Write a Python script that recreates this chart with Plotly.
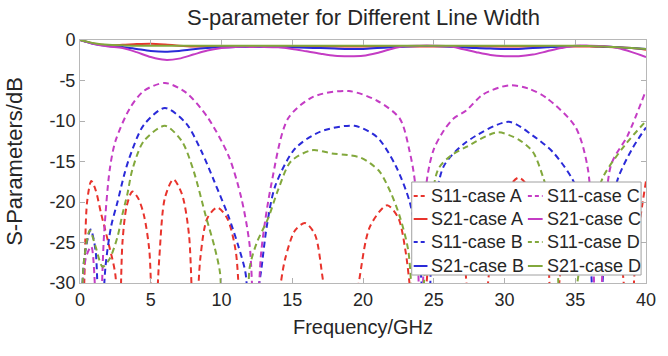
import plotly.graph_objects as go

# ---------------- data ----------------
f_s11_a = [0, 0.3, 0.5, 0.8, 1.1, 1.5, 2.0, 2.5, 2.75, 3.0, 3.3, 3.7, 4.1, 4.5, 4.9, 5.2,
           5.6, 6.0, 6.6, 7.2, 7.7, 8.1, 8.5, 9.0, 9.7, 10.4, 11.0, 11.6, 12.5, 14.0, 14.5,
           15.2, 15.9, 16.6, 17.2, 18.5, 19.7, 20.5, 21.7, 22.5, 23.0, 23.4, 24.0, 24.6,
           25.2, 26.0, 27.0, 27.8, 28.7, 29.5, 31.0, 32.3, 33.0, 33.4, 34.0, 34.8, 36.0,
           37.5, 38.3, 38.8, 39.3, 40.0]
s11_a = [-45, -30, -20, -17.4, -18.5, -21.5, -25, -29, -40, -25, -20.5, -18.7, -19.5, -21.5,
         -26, -40, -27, -19.5, -17.2, -19, -24, -40, -27, -22, -20.7, -22, -26, -40, -45,
         -32, -27, -23.5, -22.6, -24, -30, -45, -30, -23, -20.4, -22, -26, -32, -45, -28,
         -23, -20.5, -25, -40, -32, -21, -17, -20, -25, -40, -28, -22, -19.5, -23, -28,
         -40, -26, -17.4]

f_s11_b = [0, 0.3, 0.75, 1.1, 1.4, 1.8, 2.2, 2.65, 3.1, 3.5, 4.5, 6.0, 7.5, 8.6, 9.5, 10.5,
           11.2, 11.7, 12.1, 12.5, 12.8, 13.2, 13.8, 15.2, 17.0, 19.4, 21.0, 22.3, 23.3, 24.0,
           24.5, 25.0, 25.7, 27.3, 30.3, 32.0, 33.4, 34.8, 35.8, 36.5, 37.2, 38.0, 39.0, 40.0]
s11_b = [-40, -27, -23.4, -26, -40, -28, -23, -20, -16.8, -14.5, -10.5, -8.4, -10.3, -13.8,
         -17.5, -21.8, -25.5, -28.8, -40, -32, -28.5, -23, -18, -13.4, -11.3, -10.6, -12,
         -15.5, -20, -27, -40, -22, -15.6, -12.6, -10.1, -11.8, -13.8, -17.2, -22, -40, -24,
         -17.2, -13.5, -10.8]

f_s11_c = [0, 0.4, 0.8, 1.3, 1.7, 2.1, 2.5, 3.5, 4.5, 6.0, 7.5, 9.0, 10.5, 11.4, 12.0, 12.4,
           12.8, 13.5, 14.7, 16.5, 19.0, 21.0, 22.6, 23.3, 23.7, 24.1, 24.5, 25.0, 25.7, 26.4,
           27.3, 28.5, 30.3, 31.7, 33.0, 35.0, 35.9, 36.6, 37.5, 38.7, 40.0]
s11_c = [-40, -27, -25.5, -40, -24, -16, -12.5, -8.5, -6.3, -5.3, -6.5, -9.5, -14.3, -19.5,
         -25.5, -40, -26.3, -18, -9.7, -7.0, -6.3, -7.5, -9.7, -13.8, -18, -40, -17.5, -13.5,
         -11.2, -9.7, -8.7, -6.7, -5.6, -6.0, -7.2, -10.7, -16, -40, -15.6, -11.8, -6.2]

f_s11_d = [0, 0.3, 0.7, 1.1, 1.6, 2.1, 2.65, 3.0, 3.35, 3.7, 4.5, 6.0, 7.2, 8.0, 8.9, 9.5, 9.9,
           10.3, 11.5, 12.0, 12.5, 13.3, 14.0, 14.9, 16.4, 17.8, 18.9, 19.8, 20.5, 21.2, 22.0,
           22.6, 23.2, 23.8, 24.5, 25.3, 26.2, 27.3, 29.5, 31.0, 32.0, 32.7, 33.5, 34.2, 35.5,
           36.2, 37.0, 38.5, 40.0]
s11_d = [-40, -27, -23.5, -25.5, -28, -27, -24.3, -21.5, -19, -16, -12.5, -10.6, -12.5, -16,
         -21.8, -25.5, -28.8, -40, -40, -28, -25, -22, -18.5, -15, -13.6, -14.0, -14.2, -14.5,
         -15.2, -16.3, -19, -21.8, -26, -40, -26, -16, -14.3, -13.2, -11.4, -12.3, -13.8,
         -16.8, -22, -40, -26, -21, -16.8, -13, -10]

f_s21 = list(range(0, 41))
s21_a = [0, -0.45, -0.65, -0.6, -0.5, -0.45, -0.55, -0.7, -0.8, -0.8, -0.8, -0.8, -0.8, -0.8,
         -0.8, -0.8, -0.8, -0.8, -0.8, -0.8, -0.8, -0.8, -0.8, -0.8, -0.8, -0.8, -0.8, -0.8,
         -0.8, -0.8, -0.8, -0.8, -0.8, -0.8, -0.8, -0.8, -0.8, -0.85, -0.9, -1.0, -1.2]
s21_b = [0, -0.5, -0.75, -0.85, -1.1, -1.35, -1.45, -1.35, -1.15, -1.0, -0.9, -0.85, -0.85,
         -0.85, -0.85, -0.9, -0.95, -1.0, -1.05, -1.1, -1.1, -1.0, -0.9, -0.8, -0.75, -0.75,
         -0.8, -0.9, -1.0, -1.05, -1.1, -1.1, -1.0, -0.9, -0.8, -0.75, -0.75, -0.8, -0.9,
         -1.0, -1.1]
s21_c = [0, -0.5, -0.8, -1.0, -1.5, -2.1, -2.45, -2.3, -1.8, -1.3, -1.0, -0.85, -0.85, -0.85,
         -0.9, -1.1, -1.4, -1.7, -1.95, -2.0, -1.95, -1.6, -1.1, -0.75, -0.7, -0.7, -0.75,
         -1.1, -1.5, -1.85, -2.0, -2.0, -1.8, -1.4, -1.0, -0.7, -0.7, -0.75, -1.0, -1.5, -2.1]
s21_d = [0, -0.4, -0.6, -0.65, -0.7, -0.7, -0.7, -0.7, -0.7, -0.7, -0.7, -0.7, -0.7, -0.7,
         -0.7, -0.7, -0.7, -0.7, -0.7, -0.7, -0.7, -0.7, -0.7, -0.7, -0.7, -0.7, -0.7, -0.7,
         -0.7, -0.7, -0.7, -0.7, -0.7, -0.7, -0.7, -0.7, -0.75, -0.8, -0.9, -1.0, -1.1]

x_ticks = [0, 5, 10, 15, 20, 25, 30, 35, 40]
y_ticks = [0, -5, -10, -15, -20, -25, -30]
y_tick_labels = ["0", "-5", "-10", "-15", "-20", "-25", "-30"]

# ---------------- styles ----------------
RED, BLUE, MAG, GRN = "#e8332c", "#2a2ad8", "#c43cc4", "#82a83c"
DASH = "6px,4px"
FONT = "Liberation Sans, Arial, sans-serif"
TXT = "#262626"

series = [
    ("S11-case A", f_s11_a, s11_a, RED, DASH),
    ("S21-case A", f_s21, s21_a, RED, "solid"),
    ("S11-case B", f_s11_b, s11_b, BLUE, DASH),
    ("S21-case B", f_s21, s21_b, BLUE, "solid"),
    ("S11-case C", f_s11_c, s11_c, MAG, DASH),
    ("S21-case C", f_s21, s21_c, MAG, "solid"),
    ("S11-case D", f_s11_d, s11_d, GRN, DASH),
    ("S21-case D", f_s21, s21_d, GRN, "solid"),
]

fig = go.Figure()
for name, fx, fy, col, dash in series:
    fig.add_trace(go.Scatter(
        x=fx, y=fy, mode="lines", name=name, showlegend=False,
        line=dict(color=col, width=2, dash=dash, shape="spline", smoothing=0.8),
    ))

W, H = 668, 356
L, R, T, B = 80, 13, 40, 73
pw, ph = W - L - R, H - T - B


def px(xp):
    return (xp - L) / pw


def py(yp):
    return (H - B - yp) / ph


# ---------- legend box (drawn as shapes + text) ----------
shapes = [dict(type="rect", xref="paper", yref="paper",
               x0=px(417), x1=px(650), y0=py(275), y1=py(182),
               line=dict(color="#a0a0a0", width=1), fillcolor="white", layer="above")]
annotations = []
row_y = [196, 219, 242, 266]
cols = [(419, 433, 435), (535, 550, 552)]
for i, (name, fx, fy, col, dash) in enumerate(series):
    c = i // 4
    r = i % 4
    x0, x1, xt = cols[c]
    yy = row_y[r]
    shapes.append(dict(type="line", xref="paper", yref="paper",
                       x0=px(x0), x1=px(x1), y0=py(yy), y1=py(yy),
                       line=dict(color=col, width=2,
                                 dash="4px,3px" if dash != "solid" else "solid"),
                       layer="above"))
    annotations.append(dict(xref="paper", yref="paper", x=px(xt), y=py(yy),
                            text=name, showarrow=False, xanchor="left", yanchor="middle",
                            font=dict(family=FONT, size=18, color=TXT)))

fig.update_layout(
    width=W, height=H,
    margin=dict(l=L, r=R, t=T, b=B),
    paper_bgcolor="white", plot_bgcolor="white",
    font=dict(family=FONT, color=TXT),
    title=dict(text="S-parameter for Different Line Width", x=px(368), xref="paper",
               xanchor="center", y=1 - 17 / H, yanchor="middle",
               font=dict(family=FONT, size=22, color=TXT)),
    shapes=shapes,
    annotations=annotations,
    showlegend=False,
)
fig.update_xaxes(
    range=[0, 40], tickvals=x_ticks, ticks="inside", ticklen=5, tickcolor="#b0b0b0",
    showline=True, linecolor="#b8b8b8", linewidth=1, mirror="ticks", showgrid=False,
    zeroline=False, tickfont=dict(family=FONT, size=18, color=TXT),
    title=dict(text="Frequency/GHz", font=dict(family=FONT, size=20, color=TXT), standoff=11),
)
fig.update_yaxes(
    range=[-30, 0], tickvals=y_ticks, ticktext=y_tick_labels, ticks="inside", ticklen=5,
    tickcolor="#b0b0b0", showline=True, linecolor="#b8b8b8", linewidth=1, mirror="ticks",
    showgrid=False, zeroline=False, tickfont=dict(family=FONT, size=18, color=TXT),
    title=dict(text="S-Parameters/dB", font=dict(family=FONT, size=22, color=TXT), standoff=20),
)

fig.write_html("out.html")
